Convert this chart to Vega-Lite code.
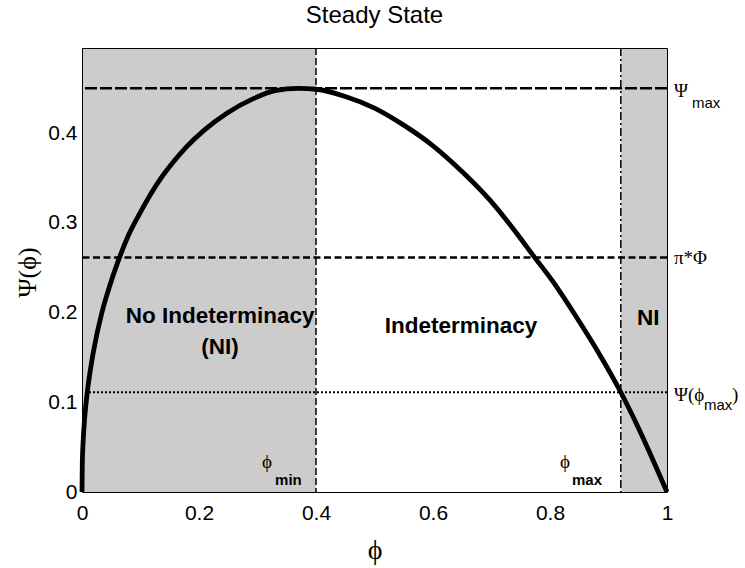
{
  "$schema": "https://vega.github.io/schema/vega-lite/v6.json",
  "width": 585,
  "height": 444,
  "autosize": {"type": "none"},
  "padding": {"left": 82, "top": 48, "right": 78, "bottom": 76},
  "background": "white",
  "title": {"text": "Steady State", "font": "Liberation Sans", "fontSize": 24, "fontWeight": "normal", "color": "black", "anchor": "middle", "baseline": "alphabetic", "offset": 0},
  "config": {"view": {"stroke": null}, "axis": {"grid": false}},
  "datasets": {
    "regions": [{"phi": 0, "phi2": 0.4}, {"phi": 0.921, "phi2": 1}],
    "vlines": [{"phi": 0.4, "line": "min"}, {"phi": 0.921, "line": "max"}],
    "hlines": [{"psi": 0.45, "line": "psimax"}, {"psi": 0.2613, "line": "piPhi"}, {"psi": 0.1112, "line": "psiAtMax"}],
    "curve": [
      {"phi": 0, "psi": 0},
      {"phi": 0.0005, "psi": 0.031},
      {"phi": 0.002, "psi": 0.057},
      {"phi": 0.005, "psi": 0.086},
      {"phi": 0.009, "psi": 0.111},
      {"phi": 0.015, "psi": 0.139},
      {"phi": 0.02, "psi": 0.158},
      {"phi": 0.0336, "psi": 0.199},
      {"phi": 0.045, "psi": 0.225},
      {"phi": 0.0638, "psi": 0.261},
      {"phi": 0.08, "psi": 0.287},
      {"phi": 0.099, "psi": 0.311},
      {"phi": 0.133, "psi": 0.348},
      {"phi": 0.155, "psi": 0.367},
      {"phi": 0.179, "psi": 0.385},
      {"phi": 0.21, "psi": 0.404},
      {"phi": 0.247, "psi": 0.422},
      {"phi": 0.293, "psi": 0.4385},
      {"phi": 0.33, "psi": 0.4474},
      {"phi": 0.37, "psi": 0.45},
      {"phi": 0.4, "psi": 0.449},
      {"phi": 0.45, "psi": 0.441},
      {"phi": 0.5, "psi": 0.428},
      {"phi": 0.55, "psi": 0.409},
      {"phi": 0.6, "psi": 0.386},
      {"phi": 0.65, "psi": 0.357},
      {"phi": 0.697, "psi": 0.3256},
      {"phi": 0.74, "psi": 0.291},
      {"phi": 0.774, "psi": 0.2613},
      {"phi": 0.803, "psi": 0.2364},
      {"phi": 0.85, "psi": 0.19},
      {"phi": 0.885, "psi": 0.153},
      {"phi": 0.921, "psi": 0.1112},
      {"phi": 0.95, "psi": 0.073},
      {"phi": 0.976, "psi": 0.0357},
      {"phi": 1, "psi": 0}
    ],
    "labels": [
      {"text": "No Indeterminacy", "phi": 0.236, "psi": 0.1885, "kind": "region"},
      {"text": "(NI)", "phi": 0.236, "psi": 0.154, "kind": "region"},
      {"text": "Indeterminacy", "phi": 0.648, "psi": 0.177, "kind": "region"},
      {"text": "NI", "phi": 0.968, "psi": 0.186, "kind": "region"},
      {"text": "ϕ", "phi": 0.3077, "psi": 0.0268, "kind": "symbol"},
      {"text": "ϕ", "phi": 0.817, "psi": 0.0268, "kind": "symbol"},
      {"text": "Ψ", "phi": 1.012, "psi": 0.4405, "kind": "symbol"},
      {"text": "π*Φ", "phi": 1.012, "psi": 0.2543, "kind": "symbol"},
      {"text": "Ψ(ϕ", "phi": 1.012, "psi": 0.1015, "kind": "symbol"},
      {"text": ")", "phi": 1.111, "psi": 0.1015, "kind": "symbol"},
      {"text": "min", "phi": 0.33, "psi": 0.0078, "kind": "subBold"},
      {"text": "max", "phi": 0.8376, "psi": 0.0078, "kind": "subBold"},
      {"text": "max", "phi": 1.0427, "psi": 0.428, "kind": "sub"},
      {"text": "max", "phi": 1.0632, "psi": 0.0914, "kind": "sub"}
    ]
  },
  "layer": [
    {
      "data": {"name": "regions"},
      "mark": {"type": "rect", "color": "#cccccc"},
      "encoding": {
        "x": {"field": "phi", "type": "quantitative", "scale": {"domain": [0, 1], "nice": false},
          "axis": {"orient": "bottom", "values": [0, 0.2, 0.4, 0.6, 0.8, 1], "format": ".1~f", "ticks": false, "domainColor": "black", "labelFont": "Liberation Sans", "labelFontSize": 21, "labelColor": "black", "labelPadding": 10, "labelFlush": false, "labelOverlap": false, "zindex": 1,
            "title": "ϕ", "titleFont": "Liberation Serif, DejaVu Serif", "titleFontSize": 28, "titleFontWeight": "normal", "titleColor": "black", "titleBaseline": "alphabetic", "titleY": 66}},
        "x2": {"field": "phi2"},
        "y": {"datum": 0, "type": "quantitative", "scale": {"domain": [0, 0.495], "nice": false},
          "axis": {"orient": "left", "values": [0, 0.1, 0.2, 0.3, 0.4], "format": ".1~f", "ticks": false, "domainColor": "black", "labelFont": "Liberation Sans", "labelFontSize": 21, "labelColor": "black", "labelPadding": 5, "labelOverlap": false, "zindex": 1,
            "title": "Ψ(ϕ)", "titleFont": "Liberation Serif, DejaVu Serif", "titleFontSize": 26, "titleFontWeight": "normal", "titleColor": "black", "titleAngle": -90, "titleAlign": "center", "titleBaseline": "middle", "titleX": -55, "titleY": 224}},
        "y2": {"datum": 0.495}
      }
    },
    {
      "data": {"name": "vlines"},
      "transform": [{"filter": "datum.line == 'min'"}],
      "mark": {"type": "rule", "color": "black", "strokeWidth": 1.5, "strokeDash": [7, 3]},
      "encoding": {"x": {"field": "phi", "type": "quantitative", "axis": null}}
    },
    {
      "data": {"name": "vlines"},
      "transform": [{"filter": "datum.line == 'max'"}],
      "mark": {"type": "rule", "color": "black", "strokeWidth": 1.5, "strokeDash": [8, 3, 2, 3]},
      "encoding": {"x": {"field": "phi", "type": "quantitative", "axis": null}}
    },
    {
      "data": {"name": "hlines"},
      "transform": [{"filter": "datum.line == 'psimax'"}],
      "mark": {"type": "rule", "color": "black", "strokeWidth": 2.5, "strokeDash": [12, 3]},
      "encoding": {"y": {"field": "psi", "type": "quantitative", "axis": null}}
    },
    {
      "data": {"name": "hlines"},
      "transform": [{"filter": "datum.line == 'piPhi'"}],
      "mark": {"type": "rule", "color": "black", "strokeWidth": 2.5, "strokeDash": [7, 3.5]},
      "encoding": {"y": {"field": "psi", "type": "quantitative", "axis": null}}
    },
    {
      "data": {"name": "hlines"},
      "transform": [{"filter": "datum.line == 'psiAtMax'"}],
      "mark": {"type": "rule", "color": "black", "strokeWidth": 2.2, "strokeDash": [2, 2]},
      "encoding": {"y": {"field": "psi", "type": "quantitative", "axis": null}}
    },
    {
      "data": {"name": "curve"},
      "mark": {"type": "line", "color": "black", "strokeWidth": 4.8, "interpolate": "monotone"},
      "encoding": {
        "x": {"field": "phi", "type": "quantitative", "axis": {"orient": "top", "labels": false, "ticks": false, "title": null, "domainColor": "black", "zindex": 1}},
        "y": {"field": "psi", "type": "quantitative", "axis": {"orient": "right", "labels": false, "ticks": false, "title": null, "domainColor": "black", "zindex": 1}}
      }
    },
    {
      "data": {"name": "labels"},
      "transform": [{"filter": "datum.kind == 'region'"}],
      "mark": {"type": "text", "font": "Liberation Sans", "fontWeight": "bold", "fontSize": 22.5, "align": "center", "baseline": "alphabetic", "color": "black"},
      "encoding": {
        "x": {"field": "phi", "type": "quantitative", "axis": null},
        "y": {"field": "psi", "type": "quantitative", "axis": null},
        "text": {"field": "text"}
      }
    },
    {
      "data": {"name": "labels"},
      "transform": [{"filter": "datum.kind == 'symbol'"}],
      "mark": {"type": "text", "font": "Liberation Serif, DejaVu Serif", "fontSize": 19, "align": "left", "baseline": "alphabetic", "color": "black"},
      "encoding": {
        "x": {"field": "phi", "type": "quantitative", "axis": null},
        "y": {"field": "psi", "type": "quantitative", "axis": null},
        "text": {"field": "text"}
      }
    },
    {
      "data": {"name": "labels"},
      "transform": [{"filter": "datum.kind == 'subBold'"}],
      "mark": {"type": "text", "font": "Liberation Sans", "fontWeight": "bold", "fontSize": 15, "align": "left", "baseline": "alphabetic", "color": "black"},
      "encoding": {
        "x": {"field": "phi", "type": "quantitative", "axis": null},
        "y": {"field": "psi", "type": "quantitative", "axis": null},
        "text": {"field": "text"}
      }
    },
    {
      "data": {"name": "labels"},
      "transform": [{"filter": "datum.kind == 'sub'"}],
      "mark": {"type": "text", "font": "Liberation Sans", "fontSize": 15, "align": "left", "baseline": "alphabetic", "color": "black"},
      "encoding": {
        "x": {"field": "phi", "type": "quantitative", "axis": null},
        "y": {"field": "psi", "type": "quantitative", "axis": null},
        "text": {"field": "text"}
      }
    }
  ]
}
